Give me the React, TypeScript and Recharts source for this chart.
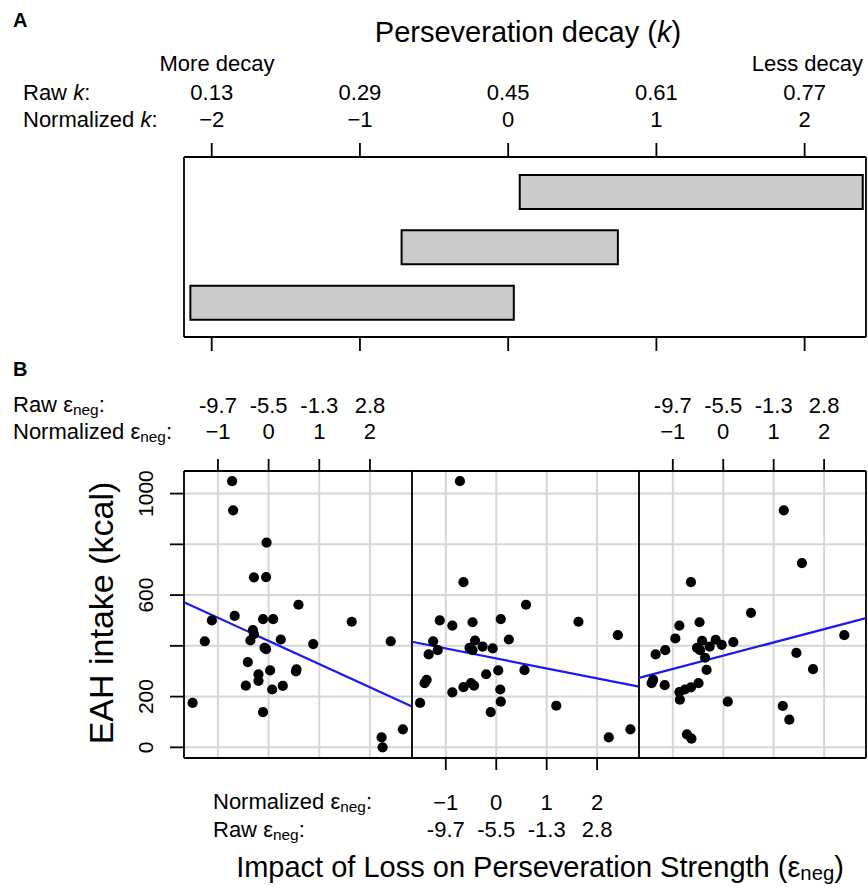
import {
  BarChart,
  Bar,
  XAxis,
  YAxis,
  CartesianGrid,
  ComposedChart,
  Scatter,
  ReferenceLine,
} from 'recharts'

const FONT = '"Liberation Sans", Arial, Helvetica, sans-serif'

// ── Panel A data ─────────────────────────────────────────────────────────────

const kTicks = [-2, -1, 0, 1, 2]
const kRawLabels = ['0.13', '0.29', '0.45', '0.61', '0.77']
const decayGroups = ['less', 'mid', 'more']
const decayLow = [0.078, -0.719, -2.144]
const decayHigh = [2.392, 0.74, 0.038]

// ── Panel B data ─────────────────────────────────────────────────────────────

const epsTicks = [-1, 0, 1, 2]
const epsRawLabels = ['-9.7', '-5.5', '-1.3', '2.8']
const intakeTicks = [0, 200, 400, 600, 800, 1000]
const intakeShown = [0, 200, 600, 1000]

const leftX = [-0.72, -0.7, -0.04, -0.29, -0.05, 0.59, -0.67, -1.12, -0.11, 0.09, 1.64, -0.31, -0.29, -0.36, -1.26, 0.24, 2.41, -0.08, -0.05, 0.88, -0.41, 0.03, -0.2, -0.2, 0.54, 0.55, -0.45, 0.28, 0.07, -1.5, -0.11, 2.65, 2.23, 2.25]
const leftY = [1049, 934, 807, 670, 671, 562, 518, 500, 505, 505, 495, 462, 446, 421, 418, 425, 418, 392, 387, 407, 336, 303, 288, 262, 299, 307, 243, 242, 228, 175, 139, 71, 39, 0]

const midX = [-0.72, -0.65, 0.59, -1.12, -0.87, -0.47, 0.09, 1.63, 2.41, -1.25, -0.42, 0.25, -1.16, -1.34, -0.53, -0.47, -0.27, -0.07, 0.04, 0.56, -0.2, -1.38, -1.42, -0.87, -0.65, -0.5, -0.44, 0.08, 0.09, -1.51, -0.11, 1.19, 2.66, 2.23]
const midY = [1049, 651, 562, 500, 480, 493, 505, 495, 442, 418, 421, 425, 383, 366, 392, 383, 397, 390, 303, 304, 288, 266, 253, 217, 237, 253, 243, 228, 180, 175, 139, 164, 71, 39]

const rightX = [1.2, 1.56, -0.64, 0.55, -0.87, -0.47, 2.4, -0.95, -0.42, -0.15, -0.03, 0.2, -0.27, -0.52, -0.46, -1.15, -1.34, -0.36, 1.45, -0.33, 1.78, -1.39, -1.42, -1.16, -0.49, -0.64, -0.76, -0.87, -0.86, 0.09, 1.18, 1.31, -0.72, -0.63]
const rightY = [934, 726, 651, 530, 480, 493, 442, 429, 420, 424, 404, 415, 397, 392, 383, 383, 366, 353, 372, 305, 308, 266, 253, 245, 253, 236, 228, 218, 188, 180, 163, 109, 51, 34]

// fitted lines: [x at left edge, x at right edge] and matching y values
const fitX = [-1.67, 2.83]
const leftFitY = [572, 161]
const midFitY = [416, 239]
const rightFitY = [274, 509]

// ── Layout constants ─────────────────────────────────────────────────────────

const EPS_DOMAIN: [number, number] = [-1.67, 2.83]
const INTAKE_DOMAIN: [number, number] = [-42, 1089]
const K_DOMAIN: [number, number] = [-2.187, 2.414]
const B_TOP = 380 // page y of panel B charts

const minus = (n: number) => (n < 0 ? `\u2212${Math.abs(n)}` : `${n}`)

const frameX = ({ offset }: any) => [offset.left, offset.left + offset.width]
const frameY = ({ offset }: any) => [offset.top, offset.top + offset.height]

function Neg({ colon = true }: { colon?: boolean }) {
  return (
    <>
      ε<tspan dy={3} fontSize="0.7em">neg</tspan>
      <tspan dy={-3}>{colon ? ':' : ')'}</tspan>
    </>
  )
}

// ── Tick renderers ───────────────────────────────────────────────────────────

function KTopTick({ x, payload }: any) {
  const i = kTicks.indexOf(payload.value)
  return (
    <g fontFamily={FONT} fontSize={22} fill="#000" textAnchor="middle">
      <text x={x} y={100}>{kRawLabels[i]}</text>
      <text x={x} y={127}>{minus(kTicks[i])}</text>
    </g>
  )
}

function EpsTopTick({ x, payload }: any) {
  const i = epsTicks.indexOf(payload.value)
  return (
    <g fontFamily={FONT} fontSize={22} fill="#000" textAnchor="middle">
      <text x={x} y={413 - B_TOP}>{epsRawLabels[i]}</text>
      <text x={x} y={439 - B_TOP}>{minus(epsTicks[i])}</text>
    </g>
  )
}

function EpsBottomTick({ x, payload }: any) {
  const i = epsTicks.indexOf(payload.value)
  return (
    <g fontFamily={FONT} fontSize={22} fill="#000" textAnchor="middle">
      <text x={x} y={810 - B_TOP}>{minus(epsTicks[i])}</text>
      <text x={x} y={837 - B_TOP}>{epsRawLabels[i]}</text>
    </g>
  )
}

function IntakeTick({ y, payload }: any) {
  if (!intakeShown.includes(payload.value)) return <g />
  return (
    <text
      x={153}
      y={y}
      transform={`rotate(-90 153 ${y})`}
      textAnchor="middle"
      fontFamily={FONT}
      fontSize={21}
      fill="#000"
    >
      {payload.value}
    </text>
  )
}

const noTick = () => <g />
const tickLine = { stroke: '#000', strokeWidth: 1.8 }

function Dot({ cx, cy }: any) {
  return <circle cx={cx} cy={cy} r={5.1} fill="#000" />
}

// ── Panel B scatter panel ────────────────────────────────────────────────────

function EahPanel({
  xs,
  ys,
  fitY,
  left,
  width,
  margin,
  axis,
  showY,
}: {
  xs: number[]
  ys: number[]
  fitY: number[]
  left: number
  width: number
  margin: { top: number; right: number; bottom: number; left: number }
  axis: 'top' | 'bottom'
  showY: boolean
}) {
  const pts = xs.map((x, i) => ({ x, y: ys[i] }))
  return (
    <div style={{ position: 'absolute', left, top: B_TOP }}>
      <ComposedChart width={width} height={470} margin={margin}>
        <XAxis
          type="number"
          dataKey="x"
          orientation={axis}
          domain={EPS_DOMAIN}
          ticks={epsTicks}
          allowDataOverflow
          height={30}
          tickSize={12}
          axisLine={false}
          tickLine={tickLine}
          tick={axis === 'top' ? <EpsTopTick /> : <EpsBottomTick />}
        />
        <YAxis
          type="number"
          dataKey="y"
          domain={INTAKE_DOMAIN}
          ticks={intakeTicks}
          allowDataOverflow
          width={showY ? 60 : 1}
          tickSize={showY ? 14 : 0}
          axisLine={false}
          tickLine={showY ? tickLine : false}
          tick={showY ? <IntakeTick /> : noTick}
        />
        <CartesianGrid stroke="#d6d6d6" strokeWidth={2} />
        <CartesianGrid
          stroke="#000"
          strokeWidth={1.8}
          verticalCoordinatesGenerator={frameX}
          horizontalCoordinatesGenerator={frameY}
        />
        <Scatter data={pts} fill="#000" shape={<Dot />} isAnimationActive={false} />
        <ReferenceLine
          segment={[
            { x: fitX[0], y: fitY[0] },
            { x: fitX[1], y: fitY[1] },
          ]}
          stroke="#1a1aee"
          strokeWidth={2.2}
          ifOverflow="visible"
        />
      </ComposedChart>
    </div>
  )
}

// ── App ──────────────────────────────────────────────────────────────────────

export default function App() {
  const decayData = decayGroups.map((g, i) => ({ group: g, k: [decayLow[i], decayHigh[i]] }))

  return (
    <div
      style={{
        position: 'absolute',
        left: 0,
        top: 0,
        width: 868,
        height: 888,
        background: '#fff',
        fontFamily: FONT,
      }}
    >
      {/* Panel A */}
      <div style={{ position: 'absolute', left: 0, top: 0 }}>
        <BarChart
          width={868}
          height={380}
          layout="vertical"
          data={decayData}
          margin={{ top: 127, right: 2, bottom: 13, left: 184 }}
          barSize={34}
        >
          <XAxis
            xAxisId="top"
            type="number"
            orientation="top"
            domain={K_DOMAIN}
            ticks={kTicks}
            allowDataOverflow
            height={30}
            tickSize={14}
            axisLine={false}
            tickLine={tickLine}
            tick={<KTopTick />}
          />
          <XAxis
            xAxisId="bottom"
            type="number"
            orientation="bottom"
            domain={K_DOMAIN}
            ticks={kTicks}
            allowDataOverflow
            height={30}
            tickSize={14}
            axisLine={false}
            tickLine={tickLine}
            tick={noTick}
          />
          <YAxis type="category" dataKey="group" hide padding={{ top: 7, bottom: 7 }} />
          <CartesianGrid
            xAxisId="top"
            stroke="#000"
            strokeWidth={1.8}
            verticalCoordinatesGenerator={frameX}
            horizontalCoordinatesGenerator={frameY}
          />
          <Bar
            xAxisId="top"
            dataKey="k"
            fill="#cccccc"
            stroke="#000"
            strokeWidth={2}
            isAnimationActive={false}
          />
        </BarChart>
      </div>

      {/* Panel B */}
      <EahPanel
        xs={leftX}
        ys={leftY}
        fitY={leftFitY}
        left={0}
        width={420}
        margin={{ top: 61, right: 8, bottom: 92, left: 124 }}
        axis="top"
        showY
      />
      <EahPanel
        xs={midX}
        ys={midY}
        fitY={midFitY}
        left={403}
        width={244}
        margin={{ top: 91, right: 8, bottom: 62, left: 8 }}
        axis="bottom"
        showY={false}
      />
      <EahPanel
        xs={rightX}
        ys={rightY}
        fitY={rightFitY}
        left={630}
        width={238}
        margin={{ top: 61, right: 2, bottom: 92, left: 8 }}
        axis="top"
        showY={false}
      />

      {/* Free text */}
      <svg
        width={868}
        height={888}
        style={{ position: 'absolute', left: 0, top: 0, pointerEvents: 'none' }}
        fontFamily={FONT}
        fill="#000"
      >
        <text x={13} y={27} fontSize={20} fontWeight="bold">A</text>
        <text x={528} y={42} fontSize={29} textAnchor="middle">
          Perseveration decay (<tspan fontStyle="italic">k</tspan>)
        </text>
        <text x={217} y={71} fontSize={22} textAnchor="middle">More decay</text>
        <text x={863} y={71} fontSize={22} textAnchor="end">Less decay</text>
        <text x={23} y={100} fontSize={22}>
          Raw <tspan fontStyle="italic">k</tspan>:
        </text>
        <text x={23} y={127} fontSize={22}>
          Normalized <tspan fontStyle="italic">k</tspan>:
        </text>

        <text x={13} y={376} fontSize={20} fontWeight="bold">B</text>
        <text x={13} y={412} fontSize={22}>
          Raw <Neg />
        </text>
        <text x={13} y={439} fontSize={22}>
          Normalized <Neg />
        </text>
        <text x={213} y={809} fontSize={22}>
          Normalized <Neg />
        </text>
        <text x={213} y={837} fontSize={22}>
          Raw <Neg />
        </text>
        <text x={540} y={877} fontSize={29} textAnchor="middle">
          Impact of Loss on Perseveration Strength (<Neg colon={false} />
        </text>
        <text x={113} y={613} fontSize={34} textAnchor="middle" transform="rotate(-90 113 613)">
          EAH intake (kcal)
        </text>
      </svg>
    </div>
  )
}
